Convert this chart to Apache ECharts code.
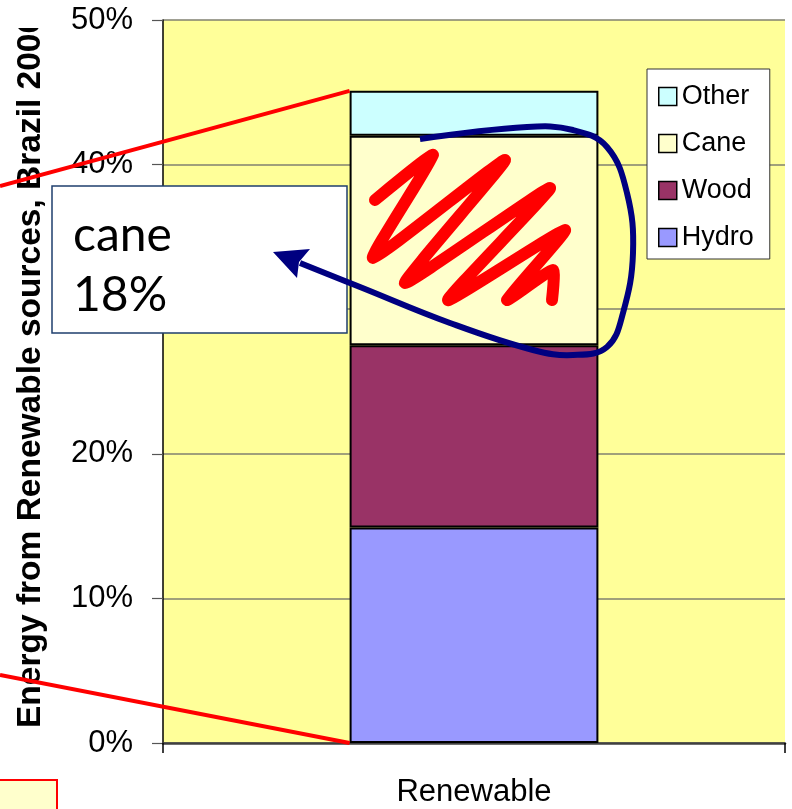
<!DOCTYPE html>
<html>
<head>
<meta charset="utf-8">
<script src="https://cdn.jsdelivr.net/npm/echarts@6/dist/echarts.min.js"></script>
<style>
  html, body { margin: 0; padding: 0; background: #ffffff; }
  #chart { width: 792px; height: 809px; }
</style>
</head>
<body>
<div id="chart"></div>
<script>
// Share of energy from renewable sources, Brazil 2006 (percent)
const categories = ['Renewable'];
const hydro = [14.9];
const wood = [12.6];
const cane = [14.5];
const other = [3.1];
const legendOrder = ['Other', 'Cane', 'Wood', 'Hydro'];
const yTicks = { min: 0, max: 50, interval: 10 };

const FONT = 'Liberation Sans, Arial, sans-serif';
const barBorder = { borderColor: '#000000', borderWidth: 2 };

const chart = echarts.init(document.getElementById('chart'), null, { renderer: 'canvas' });

function stackSeries(name, values, color) {
  return {
    name: name,
    type: 'bar',
    stack: 'total',
    barWidth: '40%',
    data: values,
    itemStyle: Object.assign({ color: color }, barBorder),
    emphasis: { disabled: true },
    z: 2
  };
}

chart.setOption({
  animation: false,
  backgroundColor: '#ffffff',
  grid: {
    left: 163, top: 20, right: 7, bottom: 66,
    show: true, backgroundColor: '#FFFF99', borderWidth: 0
  },
  legend: {
    orient: 'vertical',
    left: 647, top: 69,
    data: legendOrder,
    icon: 'rect',
    itemWidth: 18, itemHeight: 18, itemGap: 20,
    padding: [14, 16, 8, 11],
    backgroundColor: '#ffffff',
    borderColor: '#333333', borderWidth: 1,
    borderRadius: 0,
    selectedMode: false,
    itemStyle: { borderColor: '#000000', borderWidth: 1.5 },
    textStyle: { fontFamily: FONT, fontSize: 27, color: '#000000' }
  },
  xAxis: {
    type: 'category',
    data: categories,
    axisLine: { lineStyle: { color: '#404040', width: 2.5 } },
    axisTick: { show: true, length: 10, lineStyle: { color: '#000000', width: 1.5 } },
    axisLabel: { fontFamily: FONT, fontSize: 31, color: '#000000', margin: 34 },
    splitLine: { show: false }
  },
  yAxis: {
    type: 'value',
    min: yTicks.min, max: yTicks.max, interval: yTicks.interval,
    axisLine: { show: true, lineStyle: { color: '#000000', width: 1.5 } },
    axisTick: { show: true, length: 11, lineStyle: { color: '#555555', width: 1.2 } },
    axisLabel: { fontFamily: FONT, fontSize: 31, color: '#000000', margin: 30, formatter: '{value}%' },
    splitLine: { show: true, lineStyle: { color: '#808070', width: 1.5 } }
  },
  series: [
    stackSeries('Hydro', hydro, '#9999FF'),
    stackSeries('Wood', wood, '#993366'),
    stackSeries('Cane', cane, '#FFFFCC'),
    stackSeries('Other', other, '#CCFFFF')
  ]
});

// Bar corners for the red guide lines, taken from the laid-out stack
function barLayout(seriesIndex) {
  const data = chart.getModel().getSeriesByIndex(seriesIndex).getData();
  return data.getItemLayout(0);
}
const bottomLayout = barLayout(0);
const topLayout = barLayout(3);
const barLeft = Math.min(bottomLayout.x, bottomLayout.x + bottomLayout.width);
const barTop = Math.min(topLayout.y, topLayout.y + topLayout.height);
const barBottom = Math.max(bottomLayout.y, bottomLayout.y + bottomLayout.height);

// Freehand annotation strokes
const scribble = [
  [375, 200], [433, 155], [373, 258], [505, 160], [405, 283],
  [550, 188], [448, 300], [565, 230], [507, 300], [553, 270], [552, 300]
];
const loop = [
  [420, 139], [527, 127], [573, 130], [607, 147], [627, 193], [633, 253],
  [623, 313], [607, 347], [573, 355], [533, 350], [450, 323], [360, 287], [300, 263]
];

chart.setOption({
  graphic: [
    {
      type: 'text', z: 50, x: 31, y: 728, rotation: Math.PI / 2,
      style: {
        text: 'Energy from Renewable sources, Brazil 2006',
        fontFamily: FONT, fontWeight: 'bold', fontSize: 33.5, fill: '#000000',
        textAlign: 'left', textVerticalAlign: 'middle'
      }
    },
    {
      type: 'rect', z: 51, shape: { x: 0, y: 0, width: 60, height: 28 },
      style: { fill: '#ffffff' }
    },
    {
      type: 'line', z: 60,
      shape: { x1: 0, y1: 186, x2: barLeft, y2: barTop },
      style: { stroke: '#FF0000', lineWidth: 4 }
    },
    {
      type: 'line', z: 60,
      shape: { x1: 0, y1: 675, x2: barLeft, y2: barBottom },
      style: { stroke: '#FF0000', lineWidth: 4 }
    },
    {
      type: 'rect', z: 60, shape: { x: -2, y: 780, width: 59, height: 40 },
      style: { fill: '#FFFFCC', stroke: '#FF0000', lineWidth: 2 }
    },
    {
      type: 'rect', z: 70, shape: { x: 52, y: 186, width: 295, height: 147 },
      style: { fill: '#ffffff', stroke: '#1F3F6E', lineWidth: 1.5 }
    },
    {
      type: 'text', z: 71, x: 73, y: 236,
      style: { text: 'cane', fontFamily: 'Lato, sans-serif', fontSize: 48, fill: '#000000', textVerticalAlign: 'middle' }
    },
    {
      type: 'text', z: 71, x: 73, y: 296,
      style: { text: '18%', fontFamily: 'Lato, sans-serif', fontSize: 48, fill: '#000000', textVerticalAlign: 'middle' }
    },
    {
      type: 'polyline', z: 80, shape: { points: scribble, smooth: 0.15 },
      style: { stroke: '#FF0000', lineWidth: 12, lineCap: 'round', lineJoin: 'round', fill: null }
    },
    {
      type: 'polyline', z: 80, shape: { points: loop, smooth: 0.4 },
      style: { stroke: '#000080', lineWidth: 6, lineCap: 'butt', lineJoin: 'round', fill: null }
    },
    {
      type: 'polygon', z: 81,
      shape: { points: [[273, 252], [310, 249], [299, 262], [297, 278]] },
      style: { fill: '#000080' }
    }
  ]
});
</script>
</body>
</html>
